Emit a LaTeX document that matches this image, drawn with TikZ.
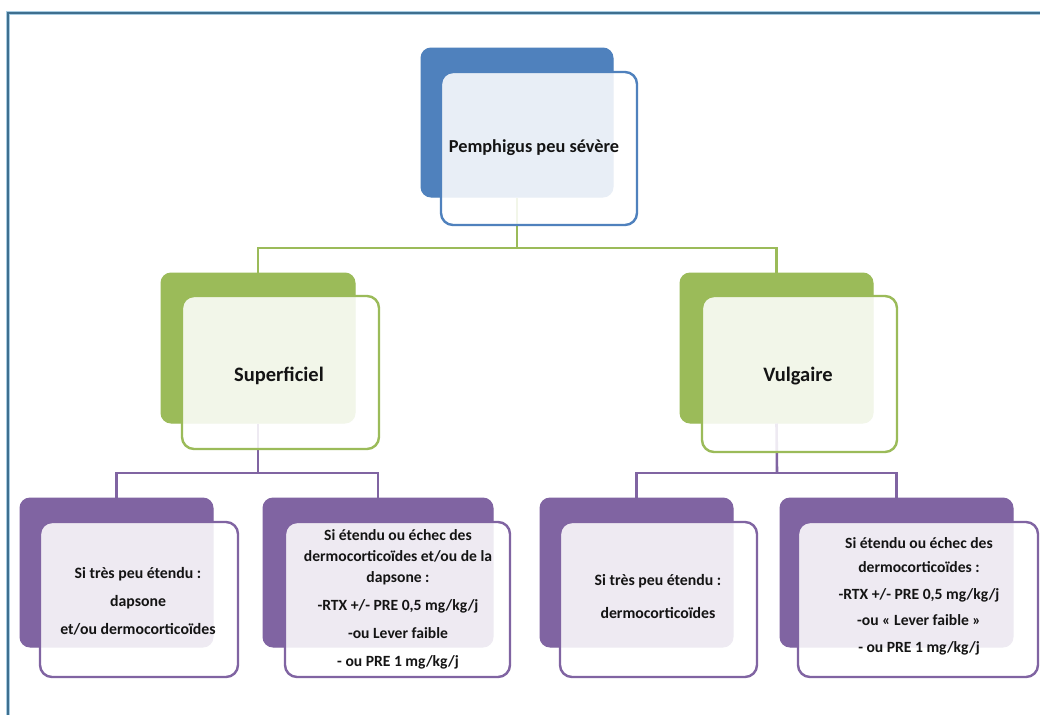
\documentclass[tikz,border=0pt]{standalone}
\usepackage{fontspec}
\setmainfont{Carlito}
\definecolor{oblue}{HTML}{4F81BD}
\definecolor{ogreen}{HTML}{9BBB59}
\definecolor{opurple}{HTML}{8064A2}
\definecolor{framedark}{HTML}{3F6F8F}
\definecolor{framelight}{HTML}{A8CCE2}
\begin{document}
\begin{tikzpicture}[x=1pt,y=-1pt,
  backbox/.style={draw=#1,fill=#1,line width=1pt,rounded corners=10pt,inner sep=0pt},
  frontbox/.style={draw=#1,line width=2.4pt,fill=white,fill opacity=0.87,rounded corners=12pt,inner sep=0pt},
  conn/.style={draw=#1,line width=2.6pt},
  txt/.style={font=\bfseries,text=black!92,align=center,inner sep=0pt}]
\useasboundingbox (0,0) rectangle (1040,715);
\fill[white] (0,0) rectangle (1040,715);
% frame
\draw[framelight,line width=3.5pt] (8,715) -- (8,13) -- (1040,13);
\draw[framedark,line width=1.3pt] (8,715) -- (8,13) -- (1040,13);

% back boxes
\node[backbox=oblue,minimum width=192pt,minimum height=149pt] (topB) at (517,122.5) {};
\node[backbox=ogreen,minimum width=194pt,minimum height=150pt] (supB) at (258,348) {};
\node[backbox=ogreen,minimum width=193pt,minimum height=150pt] (vulB) at (776.5,348) {};
\node[backbox=opurple,minimum width=193pt,minimum height=149pt] (b1B) at (116.5,572.5) {};
\node[backbox=opurple,minimum width=230pt,minimum height=149pt] (b2B) at (378,572.5) {};
\node[backbox=opurple,minimum width=193pt,minimum height=149pt] (b3B) at (636.5,572.5) {};
\node[backbox=opurple,minimum width=233pt,minimum height=149pt] (b4B) at (896.5,572.5) {};

% connectors
\coordinate (gj) at (517,248);
\coordinate (pjL) at (258,473);
\coordinate (pjR) at (777,473);
\draw[conn=ogreen] (topB.south) -- (gj);
\draw[conn=ogreen] (supB.north) |- (gj) -| (vulB.north);
\draw[conn=opurple] (supB.south) -- (pjL);
\draw[conn=opurple] (b1B.north) |- (pjL) -| (b2B.north);
\draw[conn=opurple] (vulB.south) -- (pjR);
\draw[conn=opurple] (b3B.north) |- (pjR) -| (b4B.north);

% front boxes
\node[frontbox=oblue,minimum width=196pt,minimum height=153pt] (topF) at (539,148.5) {};
\node[frontbox=ogreen,minimum width=197pt,minimum height=153pt] (supF) at (280.5,372.5) {};
\node[frontbox=ogreen,minimum width=195pt,minimum height=156pt] (vulF) at (799.5,374) {};
\node[frontbox=opurple,minimum width=198pt,minimum height=155pt] (b1F) at (139,599.5) {};
\node[frontbox=opurple,minimum width=225pt,minimum height=155pt] (b2F) at (397.5,599.5) {};
\node[frontbox=opurple,minimum width=197pt,minimum height=155pt] (b3F) at (658.5,599.5) {};
\node[frontbox=opurple,minimum width=240pt,minimum height=155pt] (b4F) at (918,599.5) {};

% texts
\node[txt,font=\fontsize{18.3}{21}\selectfont\bfseries] (topT) at (534,148) {Pemphigus peu sévère};
\node[txt,font=\fontsize{20.5}{24}\selectfont\bfseries] (supT) at (279,376) {Superficiel};
\node[txt,font=\fontsize{20.5}{24}\selectfont\bfseries] (vulT) at (798,376) {Vulgaire};
\node[txt,font=\fontsize{15.8}{28}\selectfont\bfseries] (b1T) at (138,601) {Si très peu étendu :\\dapsone\\et/ou dermocorticoïdes};
\node[txt,font=\fontsize{15.6}{21}\selectfont\bfseries] (b2T) at (398,599) {Si étendu ou échec des\\dermocorticoïdes et/ou de la\\dapsone :\\[7pt]-RTX +/- PRE 0,5 mg/kg/j\\[7pt]-ou Lever faible\\[7pt]- ou PRE 1 mg/kg/j};
\node[txt,font=\fontsize{15.8}{33}\selectfont\bfseries] (b3T) at (658,596.5) {Si très peu étendu :\\dermocorticoïdes};
\node[txt,font=\fontsize{15.6}{26.5}\selectfont\bfseries] (b4T) at (919,596) {Si étendu ou échec des\\[-2pt]dermocorticoïdes :\\-RTX +/- PRE 0,5 mg/kg/j\\-ou « Lever faible »\\- ou PRE 1 mg/kg/j};
\end{tikzpicture}
\end{document}
